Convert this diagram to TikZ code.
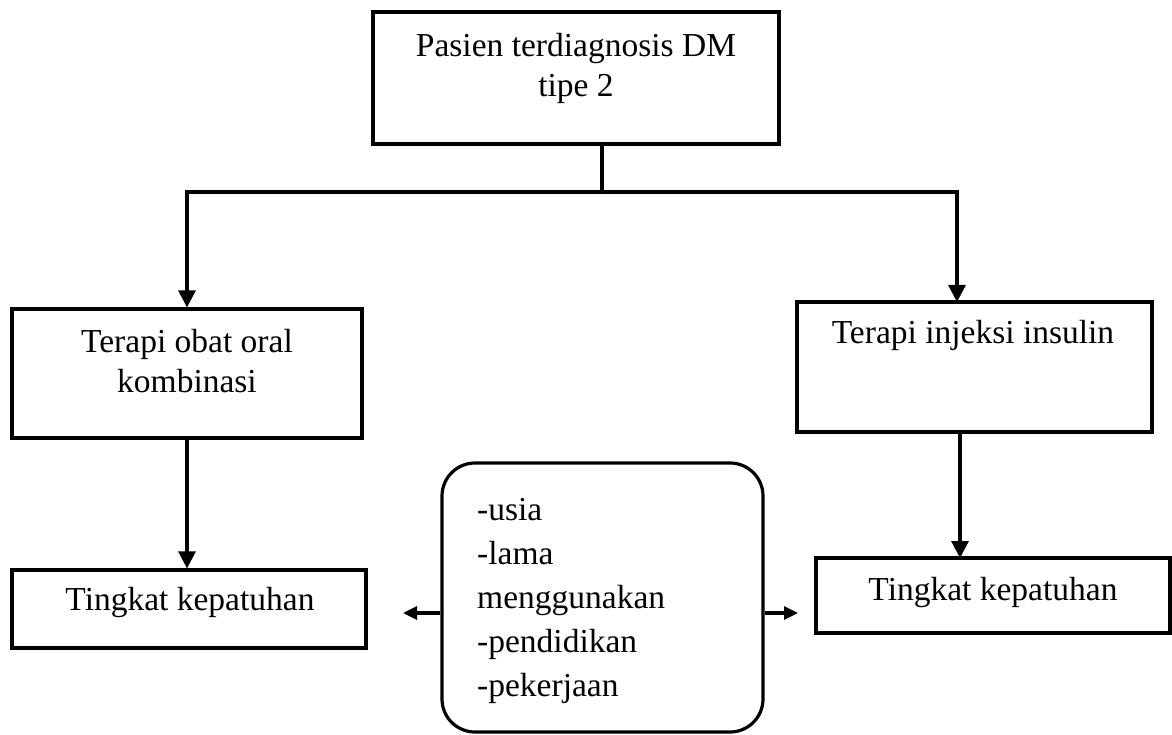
\documentclass[tikz,border=0pt]{standalone}
\usepackage{fontspec}
\setmainfont{Liberation Serif}
\usetikzlibrary{arrows.meta}
\begin{document}
\begin{tikzpicture}[x=1pt,y=-1pt,
  box/.style={draw, line width=3.2pt, rectangle, inner sep=0pt},
  lbl/.style={anchor=base, inner sep=0pt, font=\fontsize{33.5}{40}\selectfont},
  conn/.style={line width=3.2pt},
  arr/.style={conn, -{Triangle[length=17pt,width=17pt]}},
  sarr/.style={conn, -{Triangle[length=14pt,width=13pt]}}]
\useasboundingbox[fill=white] (0,0) rectangle (1172,735);
% boxes
\node[box, minimum width=406pt, minimum height=132pt] (top) at (576,78) {};
\node[box, minimum width=350pt, minimum height=129pt] (lbox) at (187,373.5) {};
\node[box, minimum width=355pt, minimum height=130pt] (rbox) at (974.5,367) {};
\node[box, minimum width=354pt, minimum height=78pt] (blbox) at (189,609) {};
\node[box, minimum width=354pt, minimum height=75pt] (brbox) at (993,595.5) {};
\node[box, rounded corners=33pt, minimum width=321pt, minimum height=269pt] (cbox) at (602.5,597.5) {};
% texts
\node[lbl] (t1) at (576,57) {Pasien terdiagnosis DM};
\node[lbl] (t2) at (576,97) {tipe 2};
\node[lbl] (t3) at (187,352) {Terapi obat oral};
\node[lbl] (t4) at (187,392) {kombinasi};
\node[lbl] (t5) at (973,343) {Terapi injeksi insulin};
\node[lbl] (t6) at (190,610) {Tingkat kepatuhan};
\node[lbl] (t7) at (993,600) {Tingkat kepatuhan};
\node[lbl, anchor=base west] (c1) at (477,520) {-usia};
\node[lbl, anchor=base west] (c2) at (477,564) {-lama};
\node[lbl, anchor=base west] (c3) at (477,608) {menggunakan};
\node[lbl, anchor=base west] (c4) at (477,652) {-pendidikan};
\node[lbl, anchor=base west] (c5) at (477,696) {-pekerjaan};
% connectors
\coordinate (jc) at (602,192);
\coordinate (rt) at (957,302);
\coordinate (r2) at (960,558);
\coordinate (la) at (403,613);
\coordinate (ra) at (798,613);
\draw[conn] (top.south -| jc) -- (jc);
\draw[arr] (jc) -| (lbox.north);
\draw[arr] (jc) -| (rt);
\draw[arr] (lbox.south) -- (lbox.south |- blbox.north);
\draw[arr] (rbox.south -| r2) -- (r2);
\draw[sarr] (cbox.west |- la) -- (la);
\draw[sarr] (cbox.east |- ra) -- (ra);
\end{tikzpicture}
\end{document}
